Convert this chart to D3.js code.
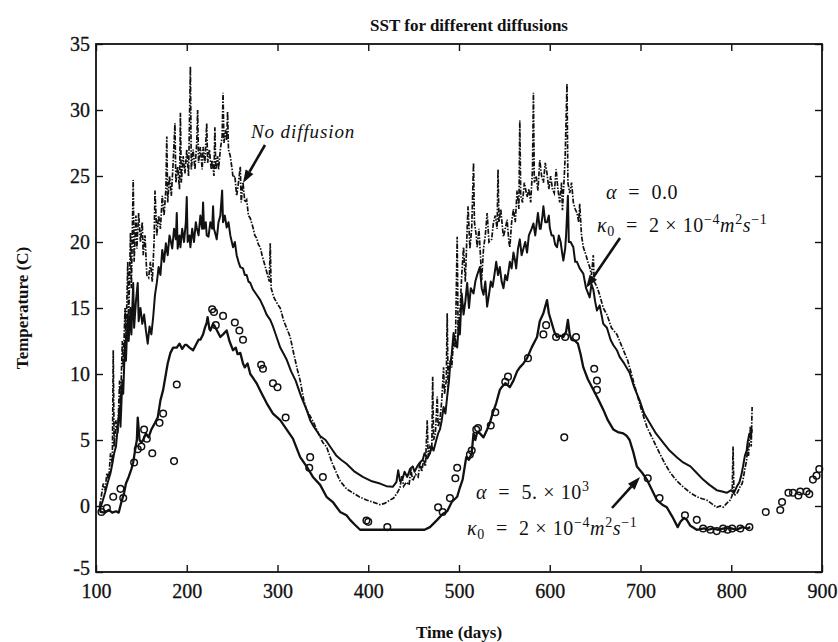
<!DOCTYPE html>
<html>
<head>
<meta charset="utf-8">
<script src="https://cdn.jsdelivr.net/npm/d3@7"></script>
<style>
  body { margin: 0; background: #fff; }
  svg text { font-family: "Liberation Serif", "Times New Roman", serif; fill: #111; }
</style>
</head>
<body>
<div id="chart"></div>
<script>
// SST for different diffusions

// "No diffusion" run (dash-dot), [day, temperature C]
const noDiffusion = [
  [104,0.0],[106,0.8],[108,1.7],[110,1.2],[112,2.5],[114,2.0],[116,4.0],[118,3.2],[119,11.8],[120,4.5],
  [122,6.5],[124,5.5],[126,9.5],[127,7.5],[129,12.5],[130,10.5],[132,15.0],[133,12.5],[135,18.5],[136,14.0],
  [138,20.7],[139,16.5],[141,24.7],[142,18.5],[144,22.0],[145,19.5],[147,22.2],[149,20.0],[151,21.5],[152,19.0],
  [154,20.5],[156,17.5],[158,17.3],[160,18.5],[162,17.0],[164,20.0],[165,23.9],[167,20.5],[169,22.0],[171,21.0],
  [173,23.5],[175,22.0],[177,24.0],[178,28.0],[179,23.0],[181,25.0],[183,23.5],[185,26.0],[187,29.0],[188,24.5],
  [190,25.7],[192,24.0],[193,29.8],[194,24.5],[196,26.5],[198,25.2],[200,27.0],[202,25.0],[204,33.3],[205,25.5],
  [207,27.0],[209,25.5],[211,27.5],[212,30.0],[213,26.0],[215,27.2],[217,25.5],[218,27.2],[220,26.0],[222,29.0],
  [223,26.0],[225,27.0],[227,25.5],[228,26.2],[230,25.0],[231,28.7],[232,25.5],[234,26.5],[235,25.5],[237,27.0],
  [239,28.0],[240,31.3],[241,27.5],[243,28.5],[244,27.7],[245,29.9],[246,27.0],[248,26.5],[250,25.5],[251,24.9],
  [253,25.0],[255,23.5],[257,24.5],[259,25.7],[260,23.0],[262,24.5],[264,23.0],[266,23.2],[268,22.0],[270,21.8],
  [273,21.1],[275,20.5],[277,20.3],[279,19.8],[281,19.6],[283,19.0],[285,18.5],[287,18.0],[289,17.5],[291,17.0],
  [292,19.9],[293,16.5],[296,15.8],[300,15.3],[303,15.0],[307,14.0],[310,13.5],[314,12.8],[318,11.5],[322,10.3],
  [325,9.5],[329,8.0],[332,7.3],[336,6.8],[340,6.3],[345,5.5],[350,4.8],[354,4.5],[360,3.3],[365,2.5],
  [369,1.9],[376,1.3],[383,1.0],[390,0.7],[398,0.45],[405,0.3],[413,0.1],[418,0.2],[424,0.45],[428,0.6],
  [432,1.0],[435,1.4],[437,2.3],[439,1.5],[442,1.8],[445,1.6],[447,2.8],[449,1.9],[452,2.4],[455,2.2],
  [457,3.3],[459,2.6],[461,3.5],[463,3.0],[465,6.5],[466,3.8],[468,4.5],[470,4.2],[471,9.8],[472,5.0],
  [474,5.5],[476,8.3],[477,6.0],[479,6.5],[481,8.0],[483,10.5],[484,8.5],[486,9.5],[487,14.6],[488,9.0],
  [490,11.0],[492,10.5],[494,12.6],[496,12.0],[498,20.4],[499,13.3],[501,14.6],[503,17.5],[505,19.6],[507,17.0],
  [509,21.0],[510,22.7],[512,19.5],[514,21.0],[516,26.0],[517,21.5],[519,20.5],[520,19.6],[522,21.0],[524,18.5],
  [525,17.1],[527,19.5],[529,20.5],[531,22.2],[533,20.0],[536,20.2],[538,21.5],[540,22.0],[542,21.0],[543,25.5],
  [544,21.5],[546,22.5],[548,21.0],[549,20.4],[551,21.0],[553,21.7],[555,20.0],[556,19.6],[558,21.5],[560,22.5],
  [562,21.5],[564,23.9],[566,22.5],[567,29.2],[568,23.5],[570,23.0],[572,24.5],[575,23.4],[577,24.0],[579,23.0],
  [581,25.5],[582,31.3],[583,24.5],[585,25.0],[587,23.9],[589,26.2],[591,25.0],[593,24.5],[595,26.0],[597,25.2],
  [599,24.0],[601,25.0],[603,24.0],[605,23.7],[607,25.5],[609,24.0],[611,23.0],[613,24.5],[614,22.4],[616,25.0],
  [617,26.5],[619,32.0],[620,24.5],[622,23.7],[624,24.5],[626,23.0],[628,22.5],[630,22.2],[632,21.5],[633,22.9],
  [635,20.5],[637,19.6],[640,19.0],[642,18.5],[644,18.1],[646,17.5],[648,19.0],[649,17.0],[652,16.6],[655,16.0],
  [659,15.0],[663,14.5],[668,13.5],[674,13.0],[680,12.0],[686,11.0],[690,10.0],[696,8.5],[701,7.3],[707,6.0],
  [714,5.0],[721,4.0],[727,3.2],[733,2.5],[740,1.9],[747,1.45],[755,1.0],[762,0.7],[768,0.55],[773,0.45],
  [778,0.2],[784,-0.1],[788,0.0],[791,-0.1],[795,0.2],[799,0.45],[801,0.8],[802,4.5],[803,0.8],[806,0.9],
  [808,1.2],[810,1.5],[812,1.7],[813,2.0],[815,2.8],[817,3.5],[818,4.5],[819,3.8],[820,5.0],[821,6.0],
  [822,4.5],[823,7.5]
];

// alpha = 0.0 run (solid, noisy)
const alphaZero = [
  [104,-0.3],[107,0.3],[110,1.0],[113,1.8],[116,2.5],[118,3.2],[120,4.0],[122,4.5],[124,6.0],[126,7.5],
  [127,6.0],[129,9.5],[130,8.5],[132,12.5],[133,11.0],[135,14.5],[136,12.5],[138,15.0],[139,13.0],[141,16.9],
  [142,13.5],[144,15.5],[146,16.9],[147,14.0],[149,15.0],[151,13.8],[153,14.5],[155,13.3],[157,12.3],[159,13.6],
  [161,13.0],[163,14.3],[165,16.0],[167,16.9],[169,18.1],[171,17.5],[173,19.4],[175,18.5],[177,19.9],[179,19.0],
  [181,20.5],[182,20.2],[184,19.5],[186,21.0],[188,20.2],[189,22.2],[190,19.5],[192,20.5],[193,19.6],[195,21.0],
  [197,20.0],[199,21.5],[200,23.4],[201,20.0],[203,20.5],[204,19.6],[206,21.0],[208,20.0],[210,21.5],[211,21.1],
  [213,20.5],[215,22.0],[217,21.0],[218,23.0],[219,21.0],[221,21.5],[222,20.5],[224,20.4],[226,21.5],[228,21.0],
  [229,22.7],[230,21.0],[232,20.5],[233,20.2],[235,21.5],[237,22.0],[239,23.9],[240,21.5],[242,22.0],[244,21.1],
  [246,21.5],[248,20.5],[251,19.6],[253,20.0],[255,19.0],[257,18.5],[259,18.1],[262,18.0],[264,17.5],[266,17.5],
  [268,17.0],[270,16.9],[273,16.4],[277,16.0],[281,15.6],[285,15.0],[288,14.5],[292,14.1],[295,13.6],[299,12.8],
  [303,12.0],[307,11.5],[310,11.1],[315,10.2],[320,9.5],[326,8.3],[332,7.3],[336,6.5],[340,6.0],[347,5.3],
  [353,5.0],[360,4.3],[365,3.8],[370,3.5],[376,3.2],[385,2.6],[394,2.2],[403,1.9],[413,1.7],[420,1.5],
  [427,1.45],[431,1.8],[433,2.7],[435,1.9],[438,2.1],[440,2.6],[443,2.2],[446,2.8],[449,3.0],[451,2.6],
  [454,3.0],[457,3.3],[460,3.5],[462,4.0],[465,3.6],[468,4.0],[470,4.5],[472,4.2],[475,5.0],[477,5.5],
  [479,5.8],[481,6.5],[483,7.5],[485,7.0],[487,8.3],[489,9.5],[490,10.5],[492,11.5],[494,13.1],[496,12.5],
  [498,12.0],[500,14.0],[501,13.0],[503,16.1],[505,14.5],[507,15.5],[509,16.9],[511,15.0],[513,16.5],[516,16.1],
  [518,17.0],[520,17.5],[523,18.1],[525,16.5],[527,16.0],[529,17.0],[531,15.1],[533,16.0],[535,17.0],[537,16.6],
  [539,17.5],[541,18.5],[543,17.5],[545,18.1],[547,17.0],[549,16.5],[551,17.5],[553,17.1],[555,18.0],[556,18.5],
  [558,18.0],[560,19.2],[562,18.5],[563,18.0],[565,19.5],[567,20.2],[569,19.0],[571,19.5],[573,20.0],[575,19.2],
  [577,20.5],[580,21.0],[582,21.4],[584,20.5],[587,22.2],[589,21.0],[590,21.0],[592,22.0],[593,22.7],[595,21.5],
  [597,21.5],[599,22.0],[600,21.1],[602,20.5],[604,20.5],[606,19.8],[608,19.6],[610,20.5],[612,20.0],[614,19.0],
  [615,18.6],[617,19.5],[618,20.5],[620,23.5],[621,20.0],[623,20.0],[626,19.6],[628,18.5],[630,18.5],[633,18.0],
  [637,17.6],[640,16.5],[644,15.8],[646,16.8],[648,16.4],[650,15.5],[652,14.8],[655,15.2],[659,13.8],[663,13.5],
  [667,12.6],[670,12.2],[674,11.8],[677,11.3],[682,10.8],[688,10.1],[693,9.0],[699,8.0],[704,7.0],[710,6.3],
  [717,5.5],[725,4.8],[732,4.2],[740,3.7],[747,3.3],[755,3.0],[762,2.5],[769,2.0],[776,1.6],[784,1.2],
  [790,1.1],[795,1.0],[800,1.2],[803,1.0],[806,1.45],[809,1.8],[811,2.3],[813,3.0],[815,3.8],[817,4.2],
  [818,4.8],[820,5.5],[821,5.2],[823,5.8]
];

// alpha = 5e3 run (solid, smoother, lowest)
const alphaHigh = [
  [104,0.0],[105,-0.45],[110,-0.5],[114,-0.3],[118,-0.5],[122,-0.4],[125,-0.5],[128,0.3],[131,1.0],[133,1.7],
  [136,2.2],[139,2.8],[141,3.3],[143,4.2],[145,5.0],[146,6.7],[148,5.0],[150,4.8],[152,5.0],[155,5.5],
  [158,5.2],[161,5.8],[165,6.3],[168,6.7],[171,8.0],[174,8.8],[177,10.0],[179,10.8],[182,11.6],[185,12.0],
  [189,12.0],[192,12.3],[195,11.9],[198,12.2],[200,12.2],[203,12.0],[207,11.8],[210,12.2],[213,12.6],[215,12.6],
  [218,13.0],[220,13.5],[222,13.9],[223,14.3],[225,13.4],[226,13.3],[229,13.8],[231,13.6],[234,13.2],[237,12.8],
  [240,13.0],[244,13.3],[247,12.5],[251,11.8],[254,12.0],[256,11.5],[259,11.6],[262,10.8],[264,10.5],[267,10.8],
  [270,10.0],[273,9.7],[277,9.3],[282,8.6],[288,7.8],[295,7.0],[303,6.5],[310,5.8],[317,5.1],[325,3.7],
  [332,3.0],[339,2.2],[347,1.6],[354,0.7],[361,0.3],[369,-0.45],[376,-0.7],[380,-1.05],[385,-1.4],[391,-1.8],
  [400,-1.8],[410,-1.8],[420,-1.8],[430,-1.8],[440,-1.8],[450,-1.8],[462,-1.8],[468,-1.6],[476,-1.05],[482,-0.6],
  [487,-0.4],[492,0.3],[498,0.7],[501,1.4],[504,2.0],[508,3.7],[511,3.5],[514,4.0],[516,5.5],[518,5.0],
  [520,5.6],[523,5.5],[527,5.2],[531,5.8],[534,6.3],[537,7.0],[541,7.8],[545,8.8],[547,9.0],[551,9.3],
  [556,9.0],[560,9.5],[564,10.2],[567,10.5],[571,10.8],[575,11.2],[580,12.0],[586,12.8],[589,14.0],[593,14.6],
  [597,15.6],[599,14.6],[602,13.9],[605,13.2],[608,12.8],[612,12.9],[615,12.8],[618,13.2],[620,14.1],[622,13.0],
  [624,12.6],[628,12.5],[631,12.3],[634,11.5],[637,10.5],[642,9.6],[648,8.8],[654,8.0],[659,7.3],[664,6.5],
  [670,5.8],[675,5.6],[681,5.5],[685,5.3],[688,5.0],[692,4.1],[696,3.0],[702,2.5],[707,2.0],
  [712,1.3],[718,0.45],[724,0.1],[729,-0.1],[735,-0.8],[741,-1.6],[744,-1.2],[748,-0.9],[751,-1.05],[755,-1.5],
  [762,-1.8],[770,-1.7],[775,-1.8],[780,-1.7],[785,-1.8],[792,-1.7],[800,-1.7],[806,-1.8],[812,-1.6],[818,-1.7],
  [821,-1.6]
];

// observations (open circles)
const observed = [
  [106,-0.45],[112,-0.15],[119,0.7],[127,1.3],[130,0.6],[142,3.3],[146,4.3],[150,4.5],[153,5.8],[156,5.1],
  [162,4.0],[170,6.3],[174,7.0],[186,3.4],[189,9.2],[228,14.9],[230,14.7],[232,13.7],[240,14.4],[253,13.9],
  [258,13.3],[262,12.6],[282,10.7],[284,10.4],[295,9.3],[300,9.0],[309,6.7],[336,3.7],[335,2.9],[350,2.2],
  [398,-1.1],[400,-1.2],[421,-1.6],[477,-0.1],[482,-0.45],[490,0.6],[496,2.1],[498,2.9],[512,3.9],[514,4.2],
  [519,5.8],[521,5.9],[535,6.1],[540,7.1],[551,9.4],[554,9.8],[576,11.2],[593,13.0],[596,13.7],[607,12.8],
  [617,12.8],[629,12.8],[616,5.2],[649,10.4],[652,9.5],[652,8.8],[708,2.1],[721,0.6],[749,-0.7],[762,-1.05],
  [769,-1.7],[777,-1.8],[784,-1.9],[791,-1.7],[796,-1.8],[801,-1.7],[810,-1.7],[820,-1.6],[838,-0.45],[854,-0.3],
  [856,0.3],[863,1.0],[868,1.0],[874,0.8],[876,1.1],[883,1.1],[886,0.9],[890,2.0],[894,2.3],[897,2.8]
];

const xTicks = [100, 200, 300, 400, 500, 600, 700, 800, 900];
const yTicks = [-5, 0, 5, 10, 15, 20, 25, 30, 35];

const WIDTH = 838;
const HEIGHT = 642;
const M = { left: 96, right: 16, top: 44, bottom: 70 };

const svg = d3.select("#chart").append("svg")
  .attr("width", WIDTH)
  .attr("height", HEIGHT);

const x = d3.scaleLinear().domain([100, 900]).range([M.left, WIDTH - M.right]);
const y = d3.scaleLinear().domain([-5, 35]).range([HEIGHT - M.bottom, M.top]);

const line = d3.line().x(d => x(d[0])).y(d => y(d[1]));

// lines
svg.append("path").datum(noDiffusion)
  .attr("d", line).attr("fill", "none").attr("stroke", "#111")
  .attr("stroke-width", 1.7).attr("stroke-dasharray", "5,1.5,1.5,1.5");

svg.append("path").datum(alphaZero)
  .attr("d", line).attr("fill", "none").attr("stroke", "#111")
  .attr("stroke-width", 2).attr("stroke-linejoin", "round");

svg.append("path").datum(alphaHigh)
  .attr("d", line).attr("fill", "none").attr("stroke", "#111")
  .attr("stroke-width", 2.3).attr("stroke-linejoin", "round");

svg.append("g").selectAll("circle")
  .data(observed).enter().append("circle")
  .attr("cx", d => x(d[0])).attr("cy", d => y(d[1])).attr("r", 3.3)
  .attr("fill", "none").attr("stroke", "#111").attr("stroke-width", 1.5);

// axes: inward ticks on every side
const tick = 7;
const gx = svg.append("g").attr("transform", `translate(0,${y(-5)})`)
  .call(d3.axisBottom(x).tickValues(xTicks).tickSizeInner(-tick).tickSizeOuter(0).tickPadding(12));
const gy = svg.append("g").attr("transform", `translate(${x(100)},0)`)
  .call(d3.axisLeft(y).tickValues(yTicks).tickSizeInner(-tick).tickSizeOuter(0).tickPadding(6));
const gt = svg.append("g").attr("transform", `translate(0,${y(35)})`)
  .call(d3.axisTop(x).tickValues(xTicks).tickSizeInner(-tick).tickSizeOuter(0).tickFormat(""));
const gr = svg.append("g").attr("transform", `translate(${x(900)},0)`)
  .call(d3.axisRight(y).tickValues(yTicks).tickSizeInner(-tick).tickSizeOuter(0).tickFormat(""));

[gx, gy, gt, gr].forEach(g => {
  g.select(".domain").remove();
  g.selectAll("line").attr("stroke", "#111").attr("stroke-width", 1.4);
  g.selectAll("text").attr("font-family", "Liberation Serif, serif").attr("font-size", 20)
    .attr("fill", "#111").attr("stroke", "#111").attr("stroke-width", 0.3);
});
gy.selectAll("text").text(d => d < 0 ? "-" + Math.abs(d) : d)
  .attr("dy", d => d === -5 ? "0.1em" : "0.32em");

svg.append("rect")
  .attr("x", x(100)).attr("y", y(35))
  .attr("width", x(900) - x(100)).attr("height", y(-5) - y(35))
  .attr("fill", "none").attr("stroke", "#111").attr("stroke-width", 1.8);

// titles
svg.append("text").attr("x", (x(100) + x(900)) / 2 + 10).attr("y", 31)
  .attr("text-anchor", "middle").attr("font-size", 17).attr("font-weight", "bold")
  .text("SST for different diffusions");

svg.append("text").attr("x", (x(100) + x(900)) / 2).attr("y", 638)
  .attr("text-anchor", "middle").attr("font-size", 17).attr("font-weight", "bold")
  .text("Time (days)");

svg.append("text")
  .attr("transform", `translate(28,${(y(-5) + y(35)) / 2}) rotate(-90)`)
  .attr("text-anchor", "middle").attr("font-size", 17).attr("font-weight", "bold")
  .text("Temperature (C)");

// annotations
function arrow(x1, y1, x2, y2) {
  const ang = Math.atan2(y2 - y1, x2 - x1);
  const len = 13, half = 4.5;
  const bx = x2 - len * Math.cos(ang), by = y2 - len * Math.sin(ang);
  svg.append("line").attr("x1", x1).attr("y1", y1).attr("x2", bx).attr("y2", by)
    .attr("stroke", "#111").attr("stroke-width", 2.6);
  const pts = [
    [x2, y2],
    [bx + half * Math.sin(ang), by - half * Math.cos(ang)],
    [bx - half * Math.sin(ang), by + half * Math.cos(ang)]
  ];
  svg.append("polygon").attr("points", pts.map(p => p.join(",")).join(" ")).attr("fill", "#111");
}

svg.append("text").attr("x", 251).attr("y", 138)
  .attr("font-size", 19).attr("font-style", "italic").attr("letter-spacing", 0.9)
  .text("No diffusion");
arrow(265, 145, 243, 183);

function mathLabel(px, py, parts) {
  const t = svg.append("text").attr("x", px).attr("y", py)
    .attr("font-size", 20).attr("letter-spacing", 0.6).attr("xml:space", "preserve");
  parts.forEach(p => {
    const s = t.append("tspan").text(p.t);
    if (p.i) s.attr("font-style", "italic");
    if (p.dy) s.attr("dy", p.dy);
    if (p.fs) s.attr("font-size", p.fs);
  });
}

const kappaParts = [
  { t: "κ", i: true }, { t: "0", dy: 4, fs: 14 }, { t: "  =  2 × 10", dy: -4 },
  { t: "−4", dy: -8, fs: 14 }, { t: "m", i: true, dy: 8 }, { t: "2", dy: -8, fs: 14 },
  { t: "s", i: true, dy: 8 }, { t: "−1", dy: -8, fs: 14 }
];

mathLabel(606, 199, [{ t: "α", i: true }, { t: "  =  0.0" }]);
mathLabel(597, 232, kappaParts);
arrow(620, 238, 586, 288);

mathLabel(476, 499, [{ t: "α", i: true }, { t: "  =  5. × 10" }, { t: "3", dy: -8, fs: 14 }]);
mathLabel(467, 535, kappaParts);
arrow(612, 508, 640, 477);
</script>
</body>
</html>
